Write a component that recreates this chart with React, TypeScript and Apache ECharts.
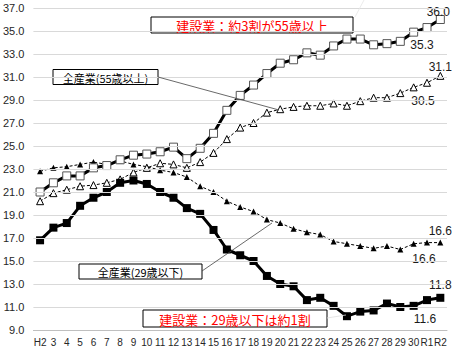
import React, { useEffect, useRef } from "react";
import * as echarts from "echarts";

const categories = [
  "H2", "3", "4", "5", "6", "7", "8", "9", "10", "11", "12", "13", "14", "15", "16",
  "17", "18", "19", "20", "21", "22", "23", "24", "25", "26", "27", "28", "29", "30", "R1", "R2",
];

// 建設業 55歳以上
const construction55 = [
  21.0, 21.8, 22.4, 22.4, 23.1, 23.3, 23.8, 24.2, 24.3, 24.5, 24.9, 23.9, 24.8, 26.1, 28.1,
  29.4, 30.3, 31.3, 32.2, 32.5, 33.1, 32.9, 33.7, 34.3, 34.3, 33.8, 33.9, 34.1, 34.9, 35.3, 36.0,
];
// 全産業 55歳以上
const all55 = [
  20.2, 20.9, 21.2, 21.5, 21.6, 21.8, 22.1, 22.7, 23.1, 23.5, 23.4, 23.1, 23.6, 24.4, 25.6,
  26.6, 27.0, 27.9, 28.2, 28.4, 28.5, 28.5, 28.7, 28.5, 28.9, 29.2, 29.2, 29.6, 30.1, 30.5, 31.1,
];
// 建設業 29歳以下
const construction29 = [
  16.8, 17.9, 18.3, 19.8, 20.5, 21.0, 21.8, 22.0, 21.7, 21.0, 20.5, 19.6, 19.1, 17.7, 16.0,
  15.5, 15.0, 13.7, 13.0, 12.8, 11.6, 11.8, 11.1, 10.2, 10.6, 10.7, 11.3, 11.0, 11.1, 11.6, 11.8,
];
// 全産業 29歳以下
const all29 = [
  22.8, 23.1, 23.2, 23.4, 23.6, 23.4, 23.7, 23.4, 23.2, 22.9, 22.7, 22.3, 21.5, 21.0, 20.2,
  19.7, 19.3, 18.6, 18.3, 17.8, 17.5, 17.3, 16.7, 16.5, 16.3, 16.1, 16.3, 16.0, 16.5, 16.6, 16.6,
];

const yTicks = [9, 11, 13, 15, 17, 19, 21, 23, 25, 27, 29, 31, 33, 35, 37];

const labelFont = "'Liberation Sans', Arial, sans-serif";
const jpFont = "'Noto Sans CJK JP', sans-serif";

// offsets for the R1 (below) and R2 (above) value labels
function withEndLabels(values: number[], r1Off: number[], r2Off: number[]) {
  const n = values.length;
  return values.map((v, i) => {
    if (i === n - 2 || i === n - 1) {
      return {
        value: v,
        label: {
          show: true,
          position: "inside",
          offset: i === n - 1 ? r2Off : r1Off,
          formatter: (p: any) => Number(p.value).toFixed(1),
          color: "#1a1a1a",
          fontSize: 12,
          fontFamily: labelFont,
        },
      };
    }
    return v;
  });
}

function box(cx: number, cy: number, w: number, h: number, text: string, color: string, size: number) {
  return {
    type: "group",
    z: 100,
    children: [
      {
        type: "rect",
        shape: { x: cx - w / 2, y: cy - h / 2, width: w, height: h },
        style: { fill: "#fff", stroke: "#000", lineWidth: 1 },
      },
      {
        type: "text",
        style: {
          x: cx,
          y: cy + 0.5,
          text,
          align: "center",
          verticalAlign: "middle",
          fill: color,
          fontSize: size,
          fontFamily: jpFont,
        },
      },
    ],
  };
}

export default function App() {
  const ref = useRef<HTMLDivElement>(null);
  useEffect(() => {
    document.body.style.margin = "0";
    if (!ref.current) return;
    const chart = echarts.init(ref.current, undefined, { renderer: "svg" });
    chart.setOption({
      animation: false,
      backgroundColor: "#fff",
      grid: { left: 33, right: 10, top: 8, bottom: 22, containLabel: false },
      xAxis: {
        type: "category",
        data: categories,
        boundaryGap: true,
        axisLine: { show: true, lineStyle: { color: "#bfbfbf", width: 1 } },
        axisTick: { show: false },
        axisLabel: {
          interval: 0,
          margin: 7,
          color: "#262626",
          fontSize: 10,
          fontFamily: labelFont,
        },
      },
      yAxis: {
        type: "value",
        min: 9,
        max: 37,
        axisLine: { show: false },
        axisTick: { show: false, customValues: yTicks },
        axisLabel: {
          customValues: yTicks,
          margin: 9,
          color: "#262626",
          fontSize: 11,
          fontFamily: labelFont,
          formatter: (v: number) => v.toFixed(1),
        },
        splitLine: { show: false },
      },
      series: [
        {
          name: "grid",
          type: "line",
          data: [],
          silent: true,
          markLine: {
            silent: true,
            symbol: "none",
            label: { show: false },
            lineStyle: { color: "#d9d9d9", width: 1, type: "solid" },
            data: yTicks.slice(1).map((t) => ({ yAxis: t })),
          },
          z: 1,
        },
        {
          name: "全産業(29歳以下)",
          type: "line",
          data: withEndLabels(all29, [-3, 16], [0, -12]),
          symbol: "triangle",
          symbolSize: 6,
          lineStyle: { color: "#000", width: 1, type: [3, 2] },
          itemStyle: { color: "#000" },
          z: 3,
        },
        {
          name: "全産業(55歳以上)",
          type: "line",
          data: withEndLabels(all55, [-4, 18], [0, -9]),
          symbol: "triangle",
          symbolSize: 7,
          lineStyle: { color: "#000", width: 1, type: [3, 2] },
          itemStyle: { color: "#fff", borderColor: "#000", borderWidth: 1 },
          z: 3,
        },
        {
          name: "建設業(29歳以下)",
          type: "line",
          data: withEndLabels(construction29, [-2, 19], [0, -13]),
          symbol: "rect",
          symbolSize: 8,
          lineStyle: { color: "#000", width: 3 },
          itemStyle: { color: "#000" },
          z: 4,
        },
        {
          name: "建設業(55歳以上)",
          type: "line",
          data: withEndLabels(construction55, [-5, 17], [-2, -8]),
          symbol: "rect",
          symbolSize: 8,
          lineStyle: { color: "#000", width: 3 },
          itemStyle: { color: "#fff", borderColor: "#555", borderWidth: 1 },
          z: 4,
        },
      ],
      graphic: [
        {
          type: "line",
          z: 90,
          shape: { x1: 158, y1: 77, x2: 279, y2: 110 },
          style: { stroke: "#444", lineWidth: 0.8 },
        },
        {
          type: "line",
          z: 90,
          shape: { x1: 202, y1: 271, x2: 272, y2: 223 },
          style: { stroke: "#444", lineWidth: 0.8 },
        },
        {
          type: "line",
          z: 90,
          shape: { x1: 327, y1: 318, x2: 346, y2: 315 },
          style: { stroke: "#e0e0e0", lineWidth: 0.8 },
        },
        {
          type: "line",
          z: 90,
          shape: { x1: 355, y1: 17, x2: 364, y2: 0 },
          style: { stroke: "#e6e6e6", lineWidth: 0.8 },
        },
        box(252, 25, 202, 16, "建設業：約3割が55歳以上", "#ff0000", 13),
        box(105.5, 77, 105, 15, "全産業(55歳以上)", "#000", 11),
        box(140.5, 271.5, 123, 15, "全産業(29歳以下)", "#000", 11),
        box(235, 318.5, 184, 17, "建設業：29歳以下は約1割", "#ff0000", 13),
      ],
    });
    return () => chart.dispose();
  }, []);
  return (
    <div
      ref={ref}
      style={{ width: 457, height: 352, position: "absolute", left: 0, top: 0 }}
    />
  );
}
